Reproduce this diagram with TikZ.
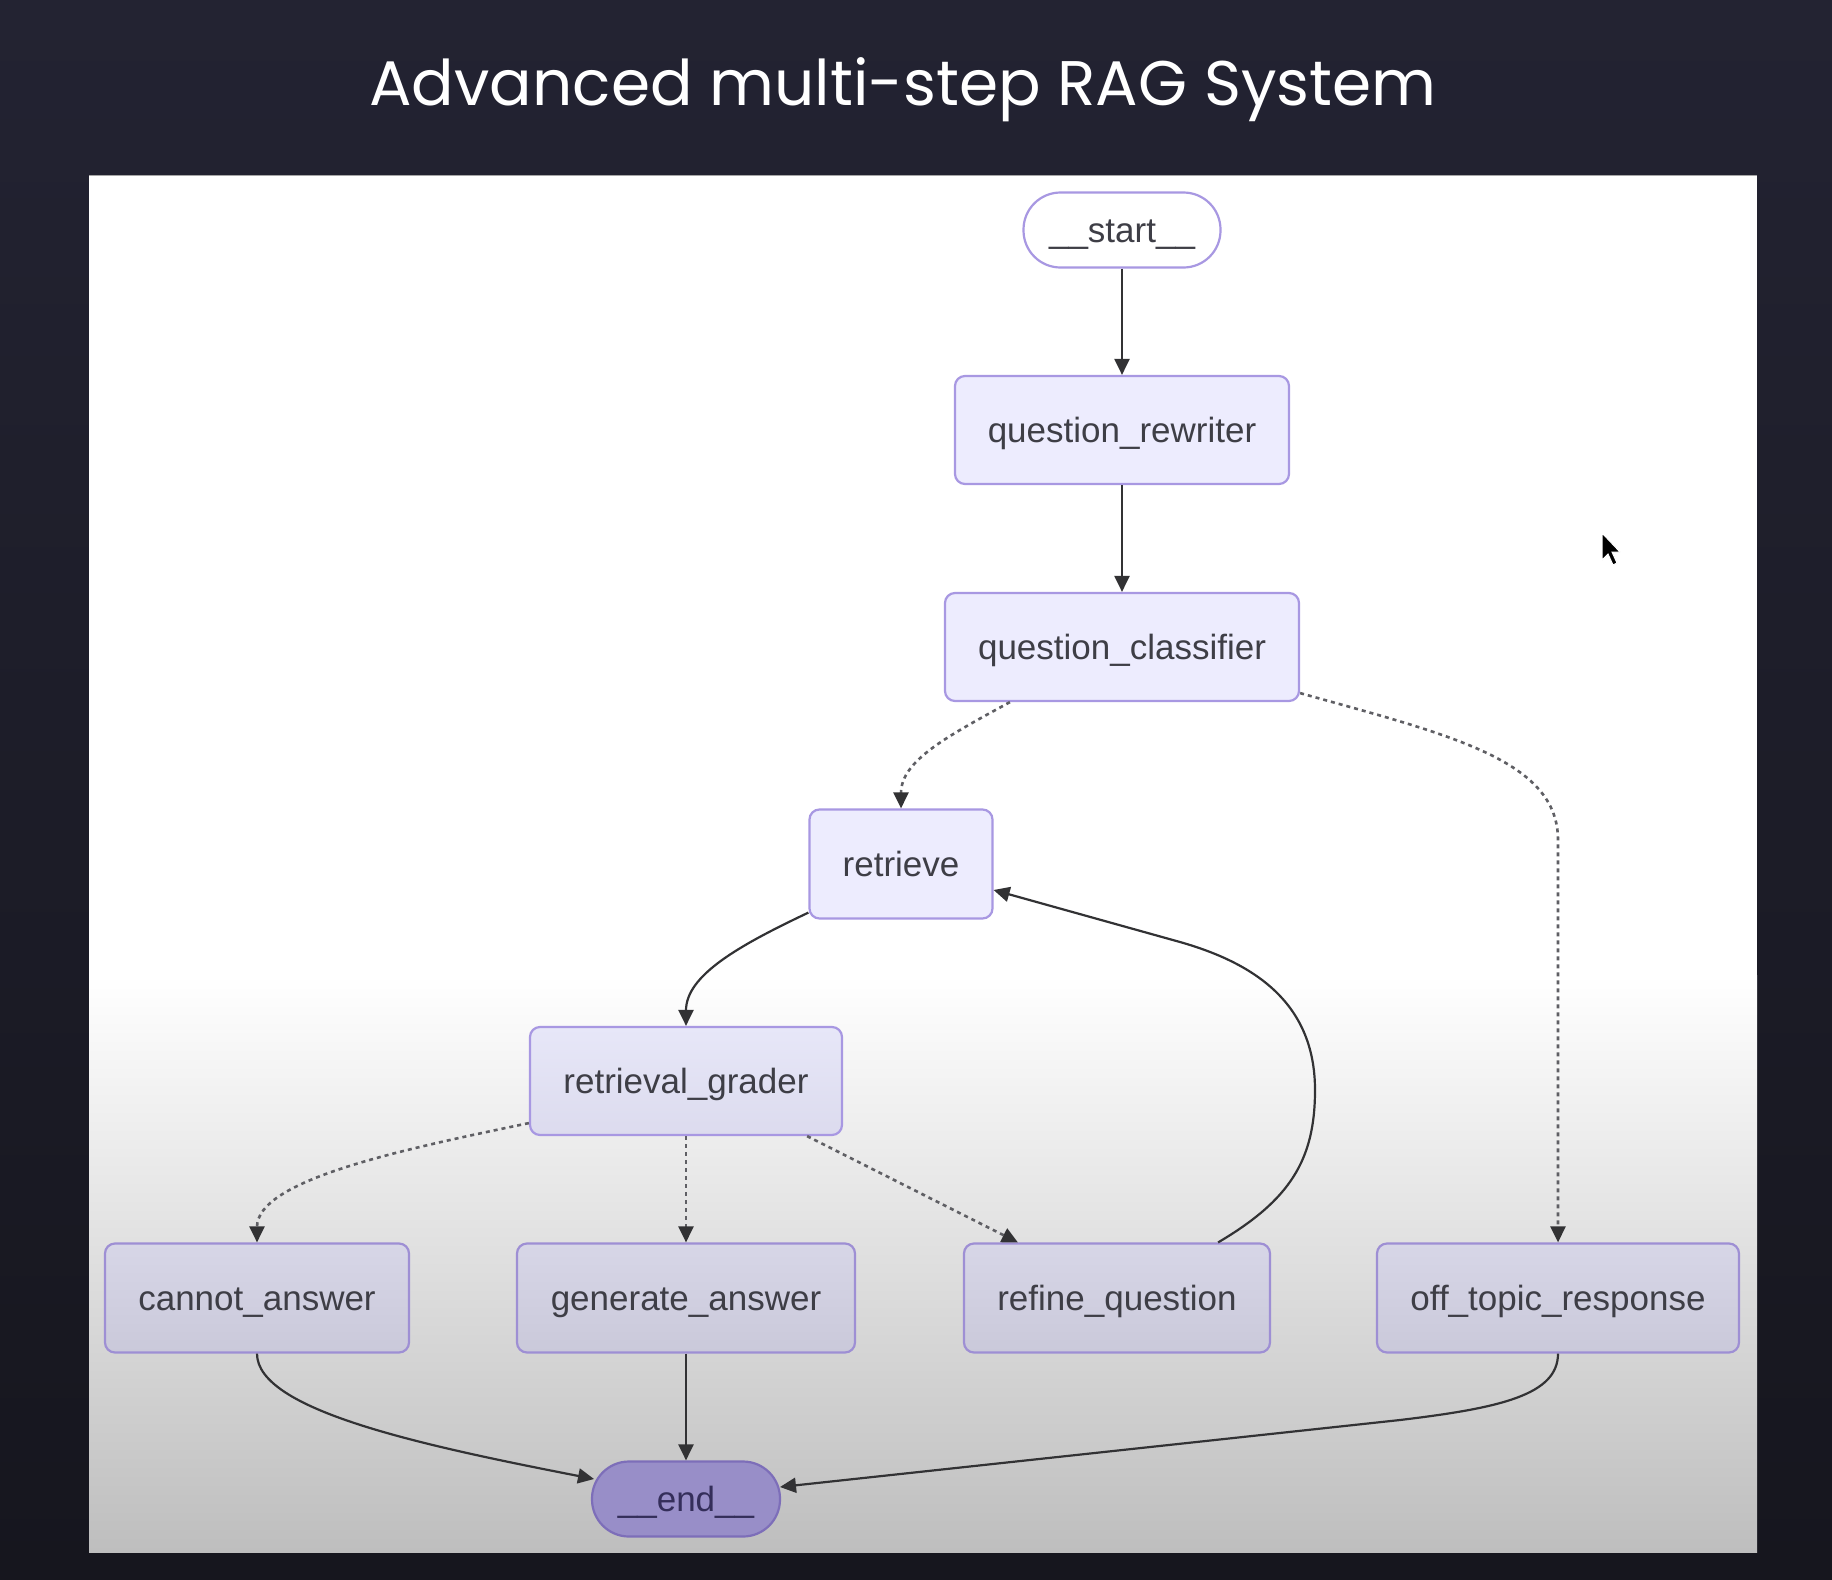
\documentclass[tikz,border=0pt]{standalone}
\usepackage{fontspec}
\setmainfont{Liberation Sans}
\newfontfamily\titlefont{Poppins}
\usetikzlibrary{arrows.meta,calc}
\definecolor{bgtop}{RGB}{35,35,50}
\definecolor{bgbot}{RGB}{22,22,30}
\definecolor{panelbot}{RGB}{190,190,190}
\definecolor{nfill}{RGB}{237,236,254}
\definecolor{nborder}{RGB}{168,152,226}
\definecolor{nborderlow}{RGB}{158,143,212}
\definecolor{ntext}{RGB}{62,62,70}
\definecolor{edgec}{RGB}{50,50,52}
\definecolor{dotc}{RGB}{95,95,100}
\definecolor{endfill}{RGB}{152,142,200}
\definecolor{endborder}{RGB}{125,110,185}
\definecolor{endtext}{RGB}{52,46,90}
\definecolor{rgtop}{RGB}{231,231,248}
\definecolor{rgbot}{RGB}{220,219,238}
\definecolor{lowtop}{RGB}{215,214,231}
\definecolor{lowbot}{RGB}{202,201,218}
\begin{document}
\begin{tikzpicture}[x=1pt,y=-1pt,
  box/.style={draw=nborder, line width=2.2pt, rounded corners=10pt,
    minimum height=108pt, inner sep=0pt, text height=25pt, text depth=0pt,
    font=\fontsize{35}{42}\selectfont, text=ntext},
  topbox/.style={box, fill=nfill},
  midbox/.style={box, top color=rgtop, bottom color=rgbot},
  lowbox/.style={box, draw=nborderlow, top color=lowtop, bottom color=lowbot},
  pill/.style={box, minimum height=75pt, rounded corners=37pt},
  tipstyle/.style={-{Triangle[length=16pt,width=15pt,color=edgec]}},
  solidedge/.style={draw=edgec, line width=2.2pt, tipstyle},
  dotedge/.style={draw=dotc, line width=2.6pt, dash pattern=on 4pt off 4pt, tipstyle}]
\useasboundingbox (0,0) rectangle (1832,1580);
% backgrounds
\shade[top color=bgtop, bottom color=bgbot] (0,0) rectangle (1832,1580);
\fill[white] (89,175) rectangle (1757,1552);
\shade[top color=white, bottom color=panelbot] (89,975) rectangle (1757,1552);
\draw[gray!70, line width=1pt] (89,175.5) -- (1757,175.5);
% title
\node[font=\titlefont\fontsize{63}{68}\selectfont, text=white, anchor=base, inner sep=0pt] (title) at (903,105) {Advanced multi-step RAG System};
% nodes
\node[pill, fill=white, minimum width=197pt] (start) at (1122,230) {\_\_start\_\_};
\node[topbox, minimum width=334pt] (qr) at (1122,430) {question\_rewriter};
\node[topbox, minimum width=354pt] (qc) at (1122,647) {question\_classifier};
\node[topbox, minimum width=183pt, minimum height=109pt] (ret) at (901,864) {retrieve};
\node[midbox, minimum width=312pt] (rg) at (686,1081) {retrieval\_grader};
\node[lowbox, minimum width=304pt, minimum height=109pt] (ca) at (257,1298) {cannot\_answer};
\node[lowbox, minimum width=338pt, minimum height=109pt] (ga) at (686,1298) {generate\_answer};
\node[lowbox, minimum width=306pt, minimum height=109pt] (rq) at (1117,1298) {refine\_question};
\node[lowbox, minimum width=362pt, minimum height=109pt] (ot) at (1558,1298) {off\_topic\_response};
\node[pill, fill=endfill, draw=endborder, text=endtext, minimum width=188pt] (end) at (686,1499) {\_\_end\_\_};
% helper coordinates
\coordinate (qcA) at ($(qc.south west)+(66,0)$);
\coordinate (qcB) at ($(qc.south east)+(0,-9)$);
\coordinate (retA) at ($(ret.south west)+(0,-7)$);
\coordinate (retB) at ($(ret.east)+(0,26)$);
\coordinate (rgA) at ($(rg.south west)+(0,-13)$);
\coordinate (rgB) at ($(rg.south east)+(-36,0)$);
\coordinate (rqIn) at ($(rq.north west)+(55,0)$);
\coordinate (rqOut) at ($(rq.north east)+(-53,0)$);
\coordinate (endL) at ($(end.center)+(-92,-20)$);
\coordinate (endR) at ($(end.center)+(94,-12)$);
% edges
\draw[solidedge] (start.south) -- (qr.north);
\draw[solidedge] (qr.south) -- (qc.north);
\draw[dotedge] (qcA) .. controls (950,735) and (901,760) .. (ret.north);
\draw[dotedge] (qcB) .. controls (1450,735) and (1558,760) .. (1558,840) -- (ot.north);
\draw[solidedge] (retA) .. controls (740,945) and (686,975) .. (rg.north);
\draw[dotedge] (rgA) .. controls (400,1150) and (257,1180) .. (ca.north);
\draw[dotedge] (rg.south) -- (ga.north);
\draw[dotedge] (rgB) -- (rqIn);
\draw[solidedge] (rqOut) .. controls (1290,1200) and (1315,1160) .. (1315,1090)
  .. controls (1315,1000) and (1250,962) .. (1180,942) -- (retB);
\draw[solidedge] (ca.south) .. controls (257,1410) and (420,1445) .. (endL);
\draw[solidedge] (ga.south) -- (end.north);
\draw[solidedge] (ot.south) .. controls (1558,1395) and (1500,1408) .. (1400,1420) -- (endR);
% mouse cursor
\fill[black, draw=white, line width=1pt] (1602,533) -- (1602,560) -- (1608,554) -- (1613,565)
  -- (1617,563) -- (1612,552) -- (1620,552) -- cycle;
\end{tikzpicture}
\end{document}
